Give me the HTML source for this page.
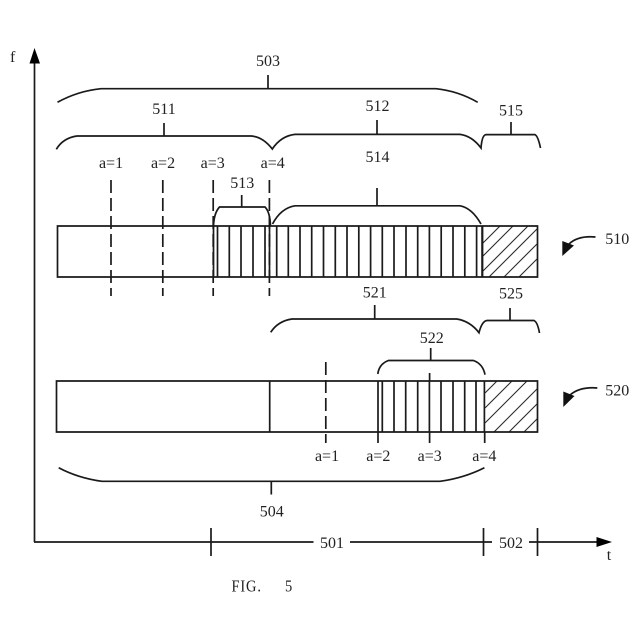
<!DOCTYPE html>
<html>
<head>
<meta charset="utf-8">
<style>
html,body{margin:0;padding:0;background:#fff;width:640px;height:640px;overflow:hidden}
svg{display:block}
text{font-family:"Liberation Serif",serif;font-size:16px;fill:#222;text-anchor:middle}
.l{fill:none;stroke:#1a1a1a;stroke-width:1.7}
.h{fill:none;stroke:#2a2a2a;stroke-width:1.1}
.d{fill:none;stroke:#1a1a1a;stroke-width:1.7;stroke-dasharray:13 5}
</style>
</head>
<body>
<svg width="640" height="640" viewBox="0 0 640 640" xmlns="http://www.w3.org/2000/svg">
<!-- axes -->
<path class="l" d="M34.5 542V60"/>
<path fill="#000" d="M34.5 48L40 63.5H29.5Z"/>
<path class="l" d="M34 542H313.5M350 542H492M529 542H600"/>
<path fill="#000" d="M612 542L596.5 537V547Z"/>
<path class="l" d="M211 528V556M483.5 528V556M537.5 528V556"/>

<!-- top rect hatch -->
<g class="h">
<path d="M483 243L500 226M483 256L513 226M483 271L528 226M489 277L537 229M504 277L537 244M519 277L537 259"/>
</g>
<!-- top rect -->
<path class="l" d="M57.5 226H537.5V277H57.5Z"/>
<path class="l" d="M213.5 226V277M217.5 226V277M229.3 226V277M241 226V277M253 226V277M265 226V277M269.5 226V277M276.7 226V277M288.3 226V277M300 226V277M311.7 226V277M323.5 226V277M335.3 226V277M347 226V277M358.8 226V277M370.6 226V277M382.3 226V277M394 226V277M406 226V277M417.7 226V277M429.4 226V277M441.2 226V277M453 226V277M464.8 226V277M476.6 226V277"/>
<path class="l" style="stroke-width:2.2" d="M482.3 226V277"/>

<!-- dashed top -->
<path class="d" d="M111 180V296M162.8 180V296M213.2 180V296M269.4 180V296"/>

<!-- bottom rect hatch -->
<g class="h">
<path d="M485 393L497 381M485 408L512 381M485 423L527 381M494 432L537.5 388.5M509 432L537.5 403.5M524 432L537.5 418.5"/>
</g>
<!-- bottom rect -->
<path class="l" d="M56.5 381H537.5V432H56.5Z"/>
<path class="l" d="M269.7 381V432M378 381V432M382.3 381V432M394 381V432M405.7 381V432M417.7 381V432M429.4 381V432M441 381V432M453 381V432M464.7 381V432M476 381V432M484.4 381V432"/>
<!-- dashed bottom -->
<path class="d" d="M325.8 362V443"/>
<path class="l" d="M378 432V443M484.7 432V443M429.6 373V381M429.6 432V443"/>

<!-- braces -->
<path class="l" d="M57.5 102.3Q78 91 101 88.7H436Q458 91 477.7 102.3M268 75V88.7"/>
<path class="l" d="M56.3 149.3Q63 138 77 136H251.5Q263 137 272.3 149Q281 136 295 134.4H460Q472 136 481 148Q482 135 486 134.6H535Q538 136 540.5 148"/>
<path class="l" d="M164 123V136M377 120V134.4M511 122V134.6"/>
<path class="l" d="M213.5 226Q214 213 219.5 207H265Q270 212 270.5 226M241.7 195V207"/>
<path class="l" d="M272.5 224Q281 208 295 205.8H460Q472 208 481 224M377 188V205.8"/>
<path class="l" d="M270.7 332.3Q278 321 292 319H456.7Q470 321 479 332.7Q482 321 487 320.5H534Q537.5 322 539.5 333"/>
<path class="l" d="M374.7 305V319M510 308V320.5"/>
<path class="l" d="M377.8 374Q379 364 388.5 360.5H473.5Q483 364 485 374.7M430.7 348V360.5"/>
<path class="l" d="M58.7 467.7Q78 478 102 481.3H440Q464 478 484.4 467.7M271.3 481.3V494.5"/>

<!-- callout arrows -->
<path class="l" d="M595.5 237Q578 235.5 569 244"/>
<path fill="#111" d="M562.3 256V241L574 245.5Z"/>
<path class="l" d="M597.3 388Q580 386.5 570 395"/>
<path fill="#111" d="M563.3 407V391.5L574.5 396Z"/>

<!-- labels -->
<text x="12.7" y="62">f</text>
<text x="268" y="66">503</text>
<text x="164" y="114">511</text>
<text x="377.5" y="111">512</text>
<text x="511" y="115.5">515</text>
<text x="377.5" y="162">514</text>
<text x="111" y="168">a=1</text>
<text x="163" y="168">a=2</text>
<text x="212.7" y="168">a=3</text>
<text x="272.7" y="168">a=4</text>
<text x="242.3" y="188">513</text>
<text x="617.3" y="244">510</text>
<text x="374.7" y="297.5">521</text>
<text x="511" y="298.5">525</text>
<text x="431.7" y="343">522</text>
<text x="617.3" y="395.3">520</text>
<text x="327" y="461">a=1</text>
<text x="378.3" y="461">a=2</text>
<text x="429.7" y="461">a=3</text>
<text x="484.3" y="461">a=4</text>
<text x="271.7" y="516.5">504</text>
<text x="332" y="548">501</text>
<text x="511" y="548">502</text>
<text x="609" y="560">t</text>
<text transform="translate(231.5 591.5) scale(.85 1)" style="font-size:17px;text-anchor:start;letter-spacing:1px">FIG.</text>
<text transform="translate(285 591.5) scale(.85 1)" style="font-size:17px;text-anchor:start">5</text>
</svg>
</body>
</html>
